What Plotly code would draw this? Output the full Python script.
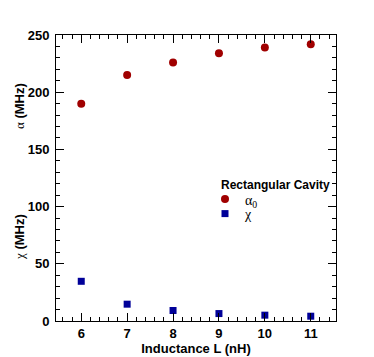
import plotly.graph_objects as go

# Inductance sweep (nH)
inductance = [6, 7, 8, 9, 10, 11]
# anharmonicity alpha_0 (MHz)
alpha = [190, 215, 226, 234, 239, 242]
# dispersive shift chi (MHz)
chi = [34.7, 14.7, 9.2, 6.5, 5.1, 4.2]

font = "Liberation Sans, Arial, sans-serif"
serif = "Liberation Serif, Times New Roman, serif"

# page body has an 8px margin, so the figure is drawn 8px smaller
W, H = 366, 349
L, T = 48, 27          # plot box left / top inside the figure
PW, PH = 280, 286      # plot box size


def px(xw):
    return (xw - 8 - L) / PW


def py(yw):
    return 1 - (yw - 8 - T) / PH


fig = go.Figure()
fig.add_trace(go.Scatter(
    x=inductance, y=alpha, mode="markers", legend="legend",
    name="α<sub>0</sub>",
    marker=dict(symbol="circle", size=8, color="#a00000"),
))
fig.add_trace(go.Scatter(
    x=inductance, y=chi, mode="markers", legend="legend2",
    name="χ",
    marker=dict(symbol="square", size=7, color="#000099"),
))

axis_common = dict(
    showline=True, linecolor="black", linewidth=1, mirror="allticks",
    ticks="inside", ticklen=8, tickcolor="black", tickwidth=1,
    showgrid=False, zeroline=False, automargin=False,
    tickfont=dict(family=font, size=13, color="black", weight="bold"),
)

legend_common = dict(
    xanchor="left", yanchor="middle", bgcolor="rgba(0,0,0,0)",
    font=dict(family=serif, size=14), itemwidth=30,
)

fig.update_layout(
    width=W, height=H,
    margin=dict(l=L, r=W - L - PW, t=T, b=H - T - PH),
    paper_bgcolor="white", plot_bgcolor="white",
    font=dict(family=font, color="black"),
    xaxis=dict(
        range=[5.45, 11.55], dtick=1, tick0=0,
        minor=dict(dtick=0.2, ticks="inside", ticklen=4, tickcolor="black"),
        title=dict(text="Inductance L (nH)", standoff=2,
                   font=dict(family=font, size=13, weight="bold")),
        **axis_common,
    ),
    yaxis=dict(
        range=[0, 250], dtick=50,
        minor=dict(dtick=10, ticks="inside", ticklen=4, tickcolor="black"),
        ticklabelstandoff=3,
        **axis_common,
    ),
    legend=dict(x=px(205), y=py(199.5), **legend_common),
    legend2=dict(x=px(205), y=py(214), **legend_common),
    showlegend=True,
)

fig.add_annotation(text="<b>Rectangular Cavity</b>", xref="paper", yref="paper",
                   x=px(219), y=py(185), xanchor="left", yanchor="middle",
                   showarrow=False, font=dict(family=font, size=12))
fig.add_annotation(text="<span style='font-family:Liberation Serif'>α</span> <b>(MHz)</b>",
                   xref="paper", yref="paper", x=px(19), y=py(106),
                   xanchor="center", yanchor="middle", textangle=-90,
                   showarrow=False, font=dict(family=font, size=13))
fig.add_annotation(text="<span style='font-family:Liberation Serif'>χ</span> <b>(MHz)</b>",
                   xref="paper", yref="paper", x=px(19), y=py(237),
                   xanchor="center", yanchor="middle", textangle=-90,
                   showarrow=False, font=dict(family=font, size=13))

fig.write_html("out.html")
